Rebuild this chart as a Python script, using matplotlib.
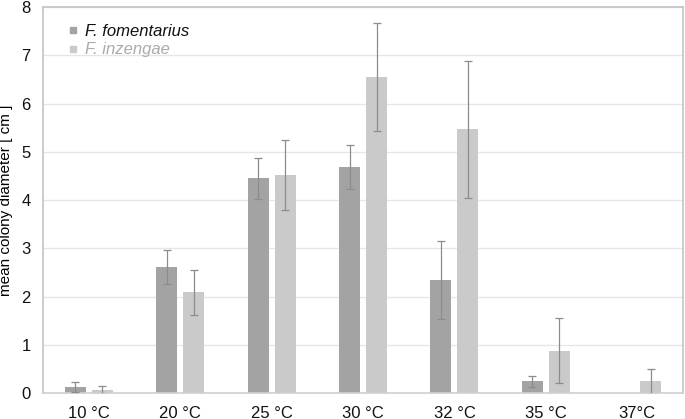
import numpy as np
import matplotlib
matplotlib.use("Agg")
import matplotlib.pyplot as plt
from matplotlib.lines import Line2D

plt.rcParams['font.family'] = ['Liberation Sans', 'DejaVu Sans']

temps = ['10 °C', '20 °C', '25 °C', '30 °C', '32 °C', '35 °C', '37°C']
fomentarius = [0.13, 2.61, 4.45, 4.68, 2.34, 0.24, np.nan]
fomentarius_err = [0.10, 0.35, 0.43, 0.46, 0.81, 0.12, np.nan]
inzengae = [0.06, 2.09, 4.52, 6.55, 5.47, 0.88, 0.24]
inzengae_err = [0.09, 0.47, 0.72, 1.12, 1.42, 0.68, 0.25]

dark = '#a3a3a3'
light = '#cacaca'
errc = '#8c8c8c'

fig = plt.figure(figsize=(6.85, 4.19), dpi=100)
ax = fig.add_axes([0.063, 0.062, 0.934, 0.921])

x = np.arange(len(temps))
w = 0.23
off = 0.148
ax.bar(x - off, np.nan_to_num(fomentarius), w, color=dark, zorder=2)
ax.bar(x + off, inzengae, w, color=light, zorder=2)
ax.errorbar(x - off, fomentarius, yerr=fomentarius_err, fmt='none', ecolor=errc,
            elinewidth=0.9, capsize=3, capthick=0.9, zorder=3)
ax.errorbar(x + off, inzengae, yerr=inzengae_err, fmt='none', ecolor=errc,
            elinewidth=0.9, capsize=3, capthick=0.9, zorder=3)

ax.set_xlim(-0.5, len(temps) - 0.5)
ax.set_ylim(0, 8)
ax.set_yticks(range(0, 9))
ax.set_xticks(x)
ax.set_xticklabels(temps)
ax.tick_params(axis='both', length=0, labelsize=12, labelcolor='#111111')
ax.tick_params(axis='x', pad=9)
ax.tick_params(axis='y', pad=9)
ax.grid(axis='y', color='#e6e6e6', linewidth=1, zorder=0)
ax.set_axisbelow(True)
for s in ['top', 'right', 'left']:
    ax.spines[s].set_color('#c4c4c4')
    ax.spines[s].set_linewidth(1.2)
ax.spines['bottom'].set_color('#d0d0d0')
ax.spines['bottom'].set_linewidth(1.2)

ax.set_ylabel('mean colony diameter [ cm ]', fontsize=11, labelpad=6)

handles = [Line2D([], [], marker='s', linestyle='none', color=dark, markersize=4.5),
           Line2D([], [], marker='s', linestyle='none', color=light, markersize=4.5)]
ax.legend(handles, ['F. fomentarius', 'F. inzengae'], loc='upper left',
          bbox_to_anchor=(0.01, 0.995), frameon=False, handletextpad=0.2,
          labelspacing=0.2, prop={'style': 'italic', 'size': 12},
          labelcolor=['#111111', '#aaaaaa'], handlelength=1.0)

fig.savefig('out.png', dpi=100)
